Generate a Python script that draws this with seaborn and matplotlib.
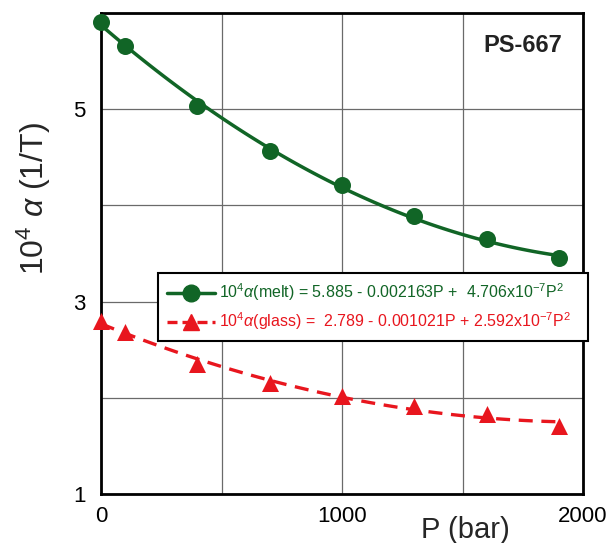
import numpy as np
import pandas as pd
import matplotlib
matplotlib.use("Agg")
import matplotlib.pyplot as plt
from matplotlib.lines import Line2D
import seaborn as sns

# ---- data ----
pressure = [0, 100, 400, 700, 1000, 1300, 1600, 1900]
alpha_melt = [5.91, 5.66, 5.03, 4.57, 4.21, 3.89, 3.65, 3.45]
alpha_glass = [2.80, 2.68, 2.35, 2.15, 2.02, 1.91, 1.83, 1.71]
x_ticks = [0, 500, 1000, 1500, 2000]
x_ticklabels = ["0", "", "1000", "", "2000"]
y_ticks = [1, 2, 3, 4, 5, 6]
y_ticklabels = ["1", "", "3", "", "5", ""]
label_melt = r"10$^4$$\it{\alpha}$(melt) = 5.885 - 0.002163P +  4.706x10$^{-7}$P$^2$"
label_glass = r"10$^4$$\it{\alpha}$(glass) =  2.789 - 0.001021P + 2.592x10$^{-7}$P$^2$"
sample_name = "PS-667"

df = pd.DataFrame({"P": pressure, "melt": alpha_melt, "glass": alpha_glass})

sns.set_style("white")
plt.rcParams["font.family"] = ["Liberation Sans", "DejaVu Sans"]
plt.rcParams["mathtext.fontset"] = "custom"
plt.rcParams["mathtext.rm"] = "Liberation Sans"
plt.rcParams["mathtext.it"] = "Liberation Sans:italic"
plt.rcParams["mathtext.default"] = "rm"

GREEN = "#116526"
RED = "#e8161e"

fig = plt.figure(figsize=(6.13, 5.43), dpi=100)
ax = fig.add_axes([101 / 613, 49 / 543, 482 / 613, 481 / 543])

# grid
ax.set_axisbelow(True)
ax.grid(True, color="#6a6a6a", linewidth=0.9)

# fitted curves (quadratic) through seaborn
sns.regplot(data=df, x="P", y="melt", order=2, ci=None, scatter=False, ax=ax,
            line_kws=dict(color=GREEN, linewidth=2.5, zorder=3))
sns.regplot(data=df, x="P", y="glass", order=2, ci=None, scatter=False, ax=ax,
            line_kws=dict(color=RED, linewidth=2.4, linestyle=(0, (4.2, 2.6)), zorder=3))

# markers
sns.scatterplot(data=df, x="P", y="melt", ax=ax, marker="o", s=150, color=GREEN,
                edgecolor=GREEN, linewidth=0, zorder=4, clip_on=False)
sns.scatterplot(data=df, x="P", y="glass", ax=ax, marker="^", s=150, color=RED,
                edgecolor=RED, linewidth=0, zorder=4, clip_on=False)

ax.set_xlim(0, 2000)
ax.set_ylim(1, 6)
ax.set_xticks(x_ticks)
ax.set_xticklabels(x_ticklabels)
ax.set_yticks(y_ticks)
ax.set_yticklabels(y_ticklabels)
ax.tick_params(axis="both", direction="in", length=5, width=1, labelsize=16,
               colors="black")
ax.tick_params(axis="x", pad=9)
ax.tick_params(axis="y", pad=11)
for s in ax.spines.values():
    s.set_visible(True)
    s.set_color("black")
    s.set_linewidth(2)

ax.set_xlabel("P (bar)", fontsize=21)
ax.xaxis.set_label_coords(0.755, -0.045)
ax.set_ylabel("")
ax.text(-0.139, 0.615, r"10$^4$ $\it{\alpha}$ (1/T)", transform=ax.transAxes,
        rotation=90, ha="center", va="center", fontsize=23)

ax.text(0.875, 0.933, sample_name, transform=ax.transAxes, ha="center",
        va="center", fontsize=17, fontweight="bold", color="#222222")

handles = [
    Line2D([], [], color=GREEN, linewidth=2.5, marker="o", markersize=12),
    Line2D([], [], color=RED, linewidth=2.4, linestyle=(0, (3, 1.5)), marker="^",
           markersize=11),
]
leg = ax.legend(handles, [label_melt, label_glass], loc="lower left",
                bbox_to_anchor=(0.118, 0.318, 0.892, 0.15), mode="expand",
                fontsize=11.5, frameon=True,
                fancybox=False, framealpha=1, edgecolor="black", handlelength=3.0,
                handletextpad=0.3, borderpad=0.55, labelspacing=0.45,
                borderaxespad=0)
leg.get_frame().set_linewidth(1.5)
leg.set_zorder(5)
for txt, c in zip(leg.get_texts(), [GREEN, RED]):
    txt.set_color(c)

fig.savefig("out.png", dpi=100)
